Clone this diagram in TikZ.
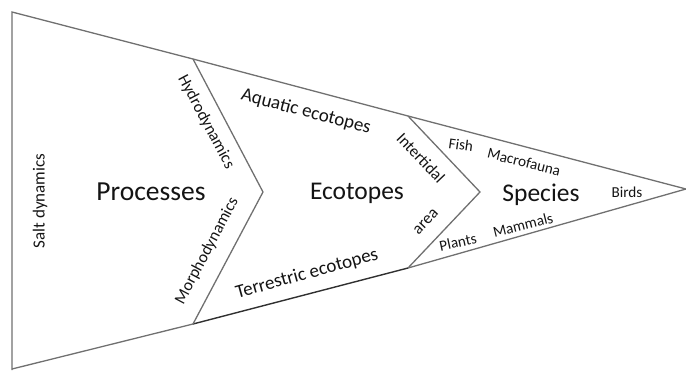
\documentclass[tikz,border=0pt]{standalone}
\usepackage{fontspec}
\setmainfont{Carlito}
\definecolor{linegray}{HTML}{707070}
\definecolor{linedark}{HTML}{303030}
\definecolor{inkblack}{HTML}{141414}
\begin{document}
\begin{tikzpicture}[x=1pt,y=-1pt,
  edge/.style={draw=linegray, line width=1.3pt, line join=miter},
  edgedark/.style={draw=linedark, line width=1.4pt},
  label/.style={inner sep=0pt, text=inkblack},
  bigtxt/.style={label, font=\fontsize{27.5}{30}\selectfont},
  midtxt/.style={label, font=\fontsize{25.5}{28}\selectfont},
  lbltxt/.style={label, font=\fontsize{19}{21}\selectfont},
  sidetxt/.style={label, font=\fontsize{16.5}{18}\selectfont},
  smalltxt/.style={label, font=\fontsize{15.2}{17}\selectfont}]
\useasboundingbox (0,0) rectangle (686,370);

% corner points of the funnel and its two chevrons
\coordinate (tl) at (12,12);
\coordinate (bl) at (12,370);
\coordinate (bl2) at (12,369);
\coordinate (tip) at (686,189);
\coordinate (h1) at (193,59);
\coordinate (m1) at (263,192);
\coordinate (b1) at (193,324);
\coordinate (h2) at (408,116);
\coordinate (m2) at (480,192);
\coordinate (b2) at (408,268);

% outline
\draw[edge] (bl) -- (tl) -- (h1) -- (h2) -- (tip) -- (b2);
\draw[edge] (b1) -- (bl2);
\draw[edgedark] (b1) -- (b2);

% chevrons
\draw[edge] (h1) -- (m1) -- (b1);
\draw[edge] (h2) -- (m2) -- (b2);

% main headings
\node[bigtxt] (proc) at (151,192) {Processes};
\node[midtxt] (ecot) at (357,193) {Ecotopes};
\node[midtxt] (spec) at (541,195) {Species};

% processes section
\node[sidetxt, font=\fontsize{17}{19}\selectfont, rotate=90] (salt) at (40,201) {Salt dynamics};
\node[sidetxt, rotate=-62] (hydro) at (206,122) {Hydrodynamics};
\node[sidetxt, rotate=62] (morpho) at (207,251) {Morphodynamics};

% ecotopes section
\node[lbltxt, rotate=-14.7] (aqua) at (306,112) {Aquatic ecotopes};
\node[lbltxt, rotate=15.5] (terr) at (307,274) {Terrestric ecotopes};
\node[sidetxt, rotate=-46.5] (inter) at (421,158) {Intertidal};
\node[sidetxt, rotate=46.5] (area) at (426,222) {area};

% species section
\node[smalltxt, rotate=-8] (fish) at (461,145) {Fish};
\node[smalltxt, rotate=-14] (macro) at (524,162) {Macrofauna};
\node[smalltxt] (birds) at (627,192) {Birds};
\node[smalltxt, rotate=12] (plants) at (458,242) {Plants};
\node[smalltxt, rotate=14] (mamm) at (523,225) {Mammals};
\end{tikzpicture}
\end{document}
